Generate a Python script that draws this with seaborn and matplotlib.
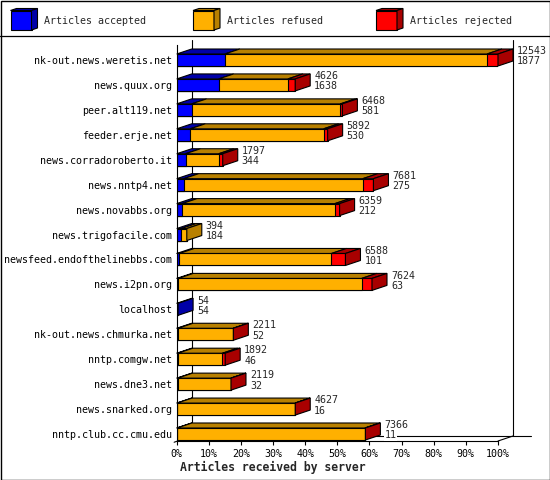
import numpy as np
import pandas as pd
import matplotlib
matplotlib.use("Agg")
import matplotlib.pyplot as plt
from matplotlib.patches import Polygon
import seaborn as sns


hosts = [
    "nk-out.news.weretis.net", "news.quux.org", "peer.alt119.net",
    "feeder.erje.net", "news.corradoroberto.it", "news.nntp4.net",
    "news.novabbs.org", "news.trigofacile.com", "newsfeed.endofthelinebbs.com",
    "news.i2pn.org", "localhost", "nk-out.news.chmurka.net",
    "nntp.comgw.net", "news.dne3.net", "news.snarked.org",
    "nntp.club.cc.cmu.edu",
]
totals = [12543, 4626, 6468, 5892, 1797, 7681, 6359, 394,
          6588, 7624, 54, 2211, 1892, 2119, 4627, 7366]
accepted = [1877, 1638, 581, 530, 344, 275, 212, 184,
            101, 63, 54, 52, 46, 32, 16, 11]
rejected = [430, 286, 78, 156, 156, 416, 182, 0,
            546, 402, 0, 4, 105, 4, 4, 20]

legend_labels = ["Articles accepted", "Articles refused", "Articles rejected"]
front_colors = ["#0000ff", "#ffb000", "#ff0000"]
shade_colors = ["#0000a8", "#b88000", "#a80000"]

W, H = 550, 480
AX_L, AX_R, AX_T, AX_B = 176.7, 498.0, 45.0, 441.0
ROW = 24.93


def build_frame():
    df = pd.DataFrame({"host": hosts, "total": totals,
                       "accepted": accepted, "rejected": rejected})
    df["refused"] = df["total"] - df["accepted"] - df["rejected"]
    top = df["total"].max()
    df["acc_pct"] = df["accepted"] / top * 100
    df["ref_pct"] = df["refused"] / top * 100
    df["rej_pct"] = df["rejected"] / top * 100
    df["tot_pct"] = df["total"] / top * 100
    df["accref_pct"] = df["acc_pct"] + df["ref_pct"]
    return df


def draw_legend(ov):
    xs = [10.5, 193.0, 376.0]
    for x, lab, fc, sc in zip(xs, legend_labels, front_colors, shade_colors):
        ov.add_patch(Polygon([(x, 10.5), (x + 21, 10.5), (x + 21, 30), (x, 30)],
                             closed=True, fc=fc, ec="black", lw=0.8))
        ov.add_patch(Polygon([(x, 10.5), (x + 21, 10.5), (x + 27, 8.5), (x + 6, 8.5)],
                             closed=True, fc=sc, ec="black", lw=0.8))
        ov.add_patch(Polygon([(x + 21, 10.5), (x + 27, 8.5), (x + 27, 28), (x + 21, 30)],
                             closed=True, fc=sc, ec="black", lw=0.8))
        ov.text(x + 34, 21, lab, fontsize=7.2, va="center", ha="left")
    ov.plot([0, W], [36, 36], color="black", lw=0.9)
    ov.add_patch(Polygon([(0.5, 0.5), (W - 0.5, 0.5), (W - 0.5, H - 0.5), (0.5, H - 0.5)],
                         closed=True, fill=False, ec="black", lw=1.0))
    ov.text(180, 467, "Articles received by server", fontsize=8.3,
            fontweight="bold", va="center", ha="left")


def main():
    sns.set_theme(style="white")
    plt.rcParams["font.family"] = ["DejaVu Sans Mono", "DejaVu Sans"]

    df = build_frame()

    fig = plt.figure(figsize=(W / 100, H / 100), dpi=100)
    ov = fig.add_axes([0, 0, 1, 1], zorder=0)
    ov.set_xlim(0, W)
    ov.set_ylim(H, 0)
    ov.axis("off")
    draw_legend(ov)

    ax = fig.add_axes([AX_L / W, 1 - AX_B / H, (AX_R - AX_L) / W, (AX_B - AX_T) / H],
                      zorder=1)
    ax.set_facecolor("none")

    bar_h = 12 / ROW
    px_pct = (AX_R - AX_L) / 100
    dx = 15 / px_pct
    dy = 5 / ROW
    y_top = -(15 / ROW)
    y_bot = (len(hosts) - 1) + (AX_B - 434) / ROW

    # walls and floor (behind bars)
    line_kw = dict(color="black", lw=0.8, clip_on=False, zorder=0.5)
    ax.plot([dx, dx], [y_top - dy, y_bot - dy], **line_kw)
    ax.plot([100 + dx, 100 + dx], [y_top - dy, y_bot - dy], **line_kw)
    ax.plot([100, 100 + dx], [y_bot, y_bot - dy], **line_kw)
    ax.plot([100 + dx, 110.3], [y_bot - dy, y_bot - dy], **line_kw)
    ax.plot([dx, 100 + dx], [y_bot - dy, y_bot - dy], **line_kw)
    ax.plot([-0.8, dx], [y_bot + 0.05, y_bot - dy], **line_kw)

    bar_kw = dict(y="host", orient="y", saturation=1, width=bar_h,
                  edgecolor="black", linewidth=0.8, errorbar=None, ax=ax)
    sns.barplot(data=df, x="tot_pct", color=front_colors[2], **bar_kw)
    sns.barplot(data=df, x="accref_pct", color=front_colors[1], **bar_kw)
    sns.barplot(data=df, x="acc_pct", color=front_colors[0], **bar_kw)

    for i, row in df.iterrows():
        yt = i - bar_h / 2
        yb = i + bar_h / 2
        edges = [0, row["acc_pct"], row["accref_pct"], row["tot_pct"]]
        last = 0
        for k in range(3):
            x0, x1 = edges[k], edges[k + 1]
            if x1 - x0 <= 0:
                continue
            last = k
            ax.add_patch(Polygon([(x0, yt), (x1, yt), (x1 + dx, yt - dy), (x0 + dx, yt - dy)],
                                 closed=True, fc=shade_colors[k], ec="black",
                                 lw=0.8, clip_on=False, zorder=3))
        xe = row["tot_pct"]
        ax.add_patch(Polygon([(xe, yt), (xe + dx, yt - dy), (xe + dx, yb - dy), (xe, yb)],
                             closed=True, fc=shade_colors[last], ec="black",
                             lw=0.8, clip_on=False, zorder=3))
        tx = xe + dx + 4 / px_pct
        ax.text(tx, i - 0.353, str(row["total"]), fontsize=7.2, va="center",
                ha="left", clip_on=False, zorder=4,
                bbox=dict(fc="white", ec="none", pad=0.3))
        ax.text(tx, i + 0.06, str(row["accepted"]), fontsize=7.2, va="center",
                ha="left", clip_on=False, zorder=4,
                bbox=dict(fc="white", ec="none", pad=0.3))

    ax.set_xlim(0, 100)
    ax.set_ylim(y_bot, y_top)
    ticks = list(range(0, 101, 10))
    ax.set_xticks(ticks)
    ax.set_xticklabels([f"{t}%" for t in ticks], fontsize=7.2)
    ax.set_yticks(range(len(hosts)))
    ax.set_yticklabels(hosts, fontsize=7.2)
    ax.tick_params(axis="x", direction="out", length=3, width=0.8, pad=2.5,
                   bottom=True, colors="black")
    ax.tick_params(axis="y", length=0, pad=3.4, colors="black")
    ax.set_xlabel("")
    ax.set_ylabel("")
    for side in ["top", "right"]:
        ax.spines[side].set_visible(False)
    for side in ["left", "bottom"]:
        ax.spines[side].set_color("black")
        ax.spines[side].set_linewidth(0.8)

    fig.savefig("out.png", dpi=100)
    plt.close(fig)


if __name__ == "__main__":
    main()
